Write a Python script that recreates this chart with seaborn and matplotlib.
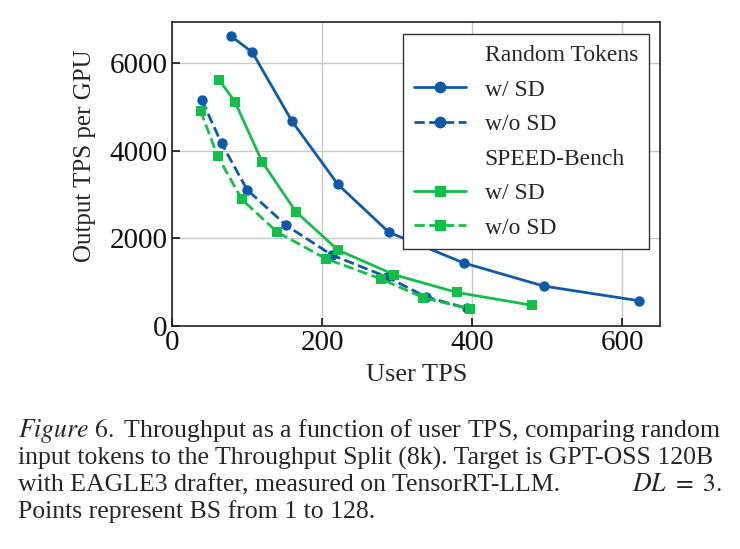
import matplotlib
matplotlib.use("Agg")
import matplotlib.pyplot as plt
import seaborn as sns
import pandas as pd
from matplotlib.lines import Line2D

# Data
rt_sd_x = [78, 107, 160, 221, 289, 389, 495, 622]
rt_sd_y = [6630, 6250, 4670, 3230, 2135, 1433, 907, 571]
rt_nosd_x = [40, 66, 100, 152, 213, 287, 338, 393]
rt_nosd_y = [5150, 4170, 3110, 2295, 1616, 1110, 660, 400]
sb_sd_x = [63, 84, 120, 165, 221, 296, 379, 480]
sb_sd_y = [5616, 5113, 3749, 2606, 1730, 1166, 763, 466]
sb_nosd_x = [38, 61, 93, 140, 205, 279, 335, 397]
sb_nosd_y = [4914, 3872, 2889, 2142, 1531, 1067, 640, 382]

x_ticks = [0, 200, 400, 600]
y_ticks = [0, 2000, 4000, 6000]

BLUE = "#0F5AA8"
GREEN = "#12BF48"

sns.set_style("whitegrid")
plt.rcParams["font.family"] = ["Liberation Serif", "DejaVu Serif"]
plt.rcParams["mathtext.fontset"] = "stix"

fig = plt.figure(figsize=(7.4, 5.49), dpi=100)
ax = fig.add_axes([0.2324, 0.4067, 0.6595, 0.5538])

series = [
    (rt_sd_x, rt_sd_y, BLUE, "o", "-"),
    (rt_nosd_x, rt_nosd_y, BLUE, "o", "--"),
    (sb_sd_x, sb_sd_y, GREEN, "s", "-"),
    (sb_nosd_x, sb_nosd_y, GREEN, "s", "--"),
]
for xs, ys, c, m, ls in series:
    df = pd.DataFrame({"x": xs, "y": ys})
    sns.lineplot(data=df, x="x", y="y", ax=ax, color=c, marker=m,
                 linestyle=ls, linewidth=2.0, markersize=7.5,
                 markeredgewidth=0, sort=False)

ax.set_xlim(0, 650)
ax.set_ylim(0, 6950)
ax.set_xticks(x_ticks)
ax.set_yticks(y_ticks)
ax.grid(True, color="#c8c8c8", linewidth=1.0)
for s in ax.spines.values():
    s.set_color("#222222")
    s.set_linewidth(1.2)
ax.tick_params(direction="in", length=6, width=1.2, labelsize=21,
               colors="#111111", left=True, bottom=True, pad=3)
ax.set_xlabel("User TPS", fontsize=19)
ax.set_ylabel("Output TPS per GPU", fontsize=18)
ax.xaxis.set_label_coords(0.502, -0.127)
ax.yaxis.set_label_coords(-0.155, 0.558)

empty = Line2D([], [], linestyle="none")
handles = [
    empty,
    Line2D([], [], color=BLUE, marker="o", linestyle="-", linewidth=2, markersize=7.5),
    Line2D([], [], color=BLUE, marker="o", linestyle="--", linewidth=2, markersize=7.5),
    empty,
    Line2D([], [], color=GREEN, marker="s", linestyle="-", linewidth=2, markersize=7.5),
    Line2D([], [], color=GREEN, marker="s", linestyle="--", linewidth=2, markersize=7.5),
]
labels = ["Random Tokens", "w/ SD", "w/o SD", "SPEED-Bench", "w/ SD", "w/o SD"]
leg = ax.legend(handles, labels, loc="upper right", bbox_to_anchor=(0.977, 0.96),
                borderaxespad=0, fontsize=17, frameon=True, fancybox=False,
                framealpha=1, edgecolor="#333333", handlelength=2.2,
                borderpad=0.45, labelspacing=0.55, handletextpad=0.8)
leg.get_frame().set_linewidth(1.0)

cap_fs = 18.5
fig.text(0.024, 1 - 431 / 549, r"$\mathit{Figure\ 6.}$ Throughput as a function of user TPS, comparing random",
         fontsize=cap_fs, va="center", ha="left")
fig.text(0.024, 1 - 458 / 549, "input tokens to the Throughput Split (8k). Target is GPT-OSS 120B",
         fontsize=cap_fs, va="center", ha="left")
fig.text(0.024, 1 - 485 / 549, "with EAGLE3 drafter, measured on TensorRT-LLM.",
         fontsize=cap_fs, va="center", ha="left")
fig.text(0.976, 1 - 485 / 549, r"$DL\ =\ 3.$",
         fontsize=cap_fs, va="center", ha="right")
fig.text(0.024, 1 - 512 / 549, "Points represent BS from 1 to 128.",
         fontsize=cap_fs, va="center", ha="left")

fig.savefig("out.png", dpi=100)
